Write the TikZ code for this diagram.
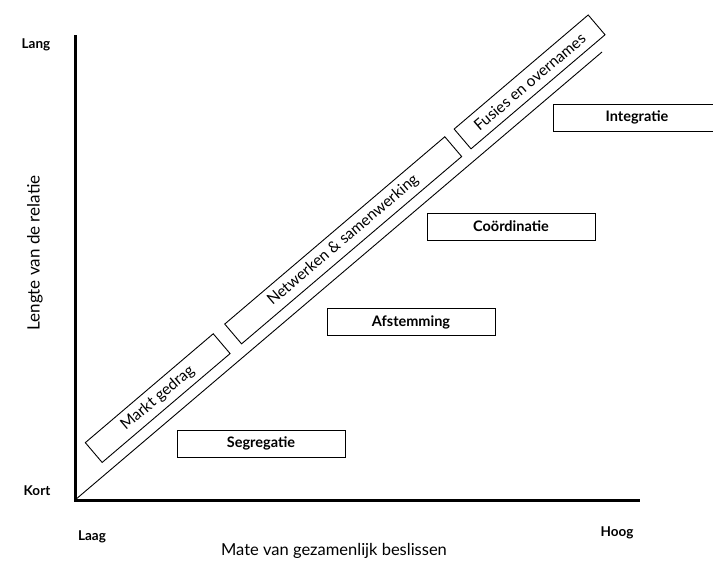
\documentclass[tikz,border=0pt]{standalone}
\usepackage{fontspec}
\setmainfont{Lato}
\begin{document}
\begin{tikzpicture}[x=1pt,y=-1pt,
  axisline/.style={line width=3pt},
  diagline/.style={line width=0.9pt},
  diagbox/.style={draw,line width=0.9pt,rotate=40.4,minimum height=26pt,inner sep=0pt,font=\fontsize{15.5}{17}\selectfont},
  levelbox/.style={draw,line width=0.9pt,minimum width=168pt,minimum height=27pt,inner sep=0pt,font=\fontsize{14.5}{16}\selectfont\bfseries},
  ticklabel/.style={font=\fontsize{13.5}{15}\selectfont\bfseries},
  axislabel/.style={font=\fontsize{17}{20}\selectfont}
]
\useasboundingbox (0,0) rectangle (713,563);
\begin{scope}
\clip (0,0) rectangle (713,563);
\coordinate (O) at (75,500);
\coordinate (T) at (75,35);
\coordinate (R) at (640,500);
\coordinate (D) at (602,52);
\draw[axisline] (T) -- (O) -- (R);
\draw[diagline] (O) -- (D);

\node[diagbox,minimum width=168pt] (markt) at (157.7,398.1) {Markt gedrag};
\node[diagbox,minimum width=289pt] (netw) at (343.2,240.3) {Netwerken \& samenwerking};
\node[diagbox,minimum width=176pt] (fusies) at (529.6,81.9) {Fusies en overnames};

\node[levelbox] (segr) at (261,443.5) {Segregatie};
\node[levelbox] (afst) at (411,322) {Afstemming};
\node[levelbox] (coord) at (511,226.5) {Coördinatie};
\node[levelbox] (integr) at (637,117.5) {Integratie};

\node[ticklabel] (lang) at (36,45) {Lang};
\node[ticklabel] (kort) at (37,491) {Kort};
\node[ticklabel] (laag) at (92,537) {Laag};
\node[ticklabel] (hoog) at (617,533) {Hoog};

\node[axislabel,font=\fontsize{16.5}{19}\selectfont] (xlab) at (334,551) {Mate van gezamenlijk beslissen};
\node[axislabel,rotate=90] (ylab) at (35,253) {Lengte van de relatie};
\end{scope}
\end{tikzpicture}
\end{document}
